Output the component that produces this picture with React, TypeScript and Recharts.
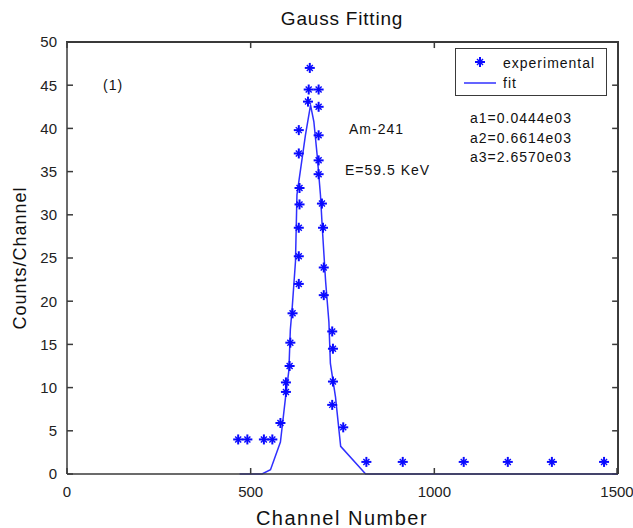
import React from 'react';
import { ComposedChart, Line, Scatter, XAxis, YAxis, ReferenceLine, CartesianGrid } from 'recharts';

// experimental counts (channel, counts)
const expChannels = [
  466, 491, 536, 559, 581, 596, 596, 606, 608, 614, 631, 631, 631, 633, 633, 631, 631,
  656, 658, 661, 685, 685, 685, 685, 685, 694, 697, 699, 699, 722, 724, 724, 722, 752,
  815, 914, 1080, 1200, 1320, 1462,
];
const expCounts = [
  4, 4, 4, 4, 5.9, 9.5, 10.6, 12.5, 15.2, 18.6, 22.0, 25.2, 28.5, 31.2, 33.1, 37.1, 39.8,
  43.1, 44.5, 47.0, 44.5, 42.5, 39.2, 36.3, 34.7, 31.3, 28.5, 23.9, 20.7, 16.5, 14.5, 10.7, 8.0, 5.4,
  1.4, 1.4, 1.4, 1.4, 1.4, 1.4,
];

// fitted curve
const fitChannels = [
  470, 531, 554, 581, 595, 604, 608, 613, 622, 626, 649, 663, 672, 681, 690, 695, 704, 713,
  717, 731, 745, 813, 1000, 1500,
];
const fitCounts = [
  0, 0, 0.5, 3.7, 8.9, 12, 16.7, 19.2, 24.6, 32.3, 39.2, 42.7, 40.8, 36.9, 32.3, 28.5, 22.3, 17.6,
  12.8, 8.9, 3.2, 0, 0, 0,
];

const xTicks = [0, 500, 1000, 1500];
const yTicks = [0, 5, 10, 15, 20, 25, 30, 35, 40, 45, 50];
const X_MAX = 1500;
const Y_MAX = 50;

const fitParams = ['a1=0.0444e03', 'a2=0.6614e03', 'a3=2.6570e03'];

const expData = expChannels.map((x, i) => ({ x, y: expCounts[i] }));
const fitData = fitChannels.map((x, i) => ({ x, y: fitCounts[i] }));

const BLUE = '#0a0aff';
const AXIS = '#3a3a3a';
const FONT = '"Liberation Sans", Arial, Helvetica, sans-serif';
const TICK_LEN = 6;
// same tick length for the top/right ticks, in data units
const TICK_DX = 16;
const TICK_DY = 0.7;

const Star = (props: any) => {
  const { cx, cy } = props;
  if (cx == null || cy == null) return null;
  return (
    <g>
      <line x1={cx - 5} y1={cy} x2={cx + 5} y2={cy} stroke={BLUE} strokeWidth={2} />
      <line x1={cx} y1={cy - 5} x2={cx} y2={cy + 5} stroke={BLUE} strokeWidth={2} />
      <line x1={cx - 3} y1={cy - 3} x2={cx + 3} y2={cy + 3} stroke={BLUE} strokeWidth={1.4} />
      <line x1={cx - 3} y1={cy + 3} x2={cx + 3} y2={cy - 3} stroke={BLUE} strokeWidth={1.4} />
    </g>
  );
};

// ticks point into the plot, like the matlab box
const LeftTick = (props: any) => {
  const { x, y, payload } = props;
  return (
    <g>
      <line x1={x + 10} y1={y} x2={x + 10 + TICK_LEN} y2={y} stroke={AXIS} strokeWidth={1.5} />
      <text x={x} y={y} dy="0.36em" textAnchor="end" fill="#222" fontSize={15} fontFamily={FONT}>
        {payload.value}
      </text>
    </g>
  );
};

const BottomTick = (props: any) => {
  const { x, y, payload } = props;
  return (
    <g>
      <line x1={x} y1={y - 12} x2={x} y2={y - 12 - TICK_LEN} stroke={AXIS} strokeWidth={1.5} />
      <text x={x} y={y} dy="0.75em" textAnchor="middle" fill="#222" fontSize={15} fontFamily={FONT}>
        {payload.value}
      </text>
    </g>
  );
};

const txt: React.CSSProperties = {
  position: 'absolute',
  fontFamily: FONT,
  fontSize: 14,
  letterSpacing: 1,
  color: '#111',
  whiteSpace: 'nowrap',
  lineHeight: 1,
};

const tickStroke = { stroke: AXIS, strokeWidth: 1.5 };

export default function App() {
  return (
    <div
      style={{
        position: 'absolute',
        left: 0,
        top: 0,
        width: 633,
        height: 528,
        background: '#fff',
        fontFamily: FONT,
      }}
    >
      <ComposedChart width={633} height={528} margin={{ top: 41, right: 14, bottom: 24, left: 17 }}>
        <CartesianGrid
          stroke={AXIS}
          strokeWidth={1.5}
          horizontalCoordinatesGenerator={(p: any) => [p.offset.top + 0.2]}
          verticalCoordinatesGenerator={(p: any) => [p.offset.left + p.offset.width - 0.2]}
        />
        <XAxis
          xAxisId="b"
          dataKey="x"
          type="number"
          domain={[0, X_MAX]}
          ticks={xTicks}
          height={30}
          tickLine={false}
          tickSize={0}
          tickMargin={12}
          axisLine={{ stroke: AXIS, strokeWidth: 1.5 }}
          tick={<BottomTick />}
        />
        <XAxis
          xAxisId="t"
          orientation="top"
          type="number"
          domain={[0, X_MAX]}
          ticks={xTicks}
          height={1}
          axisLine={{ stroke: AXIS, strokeWidth: 1.5 }}
          tick={false}
        />
        <YAxis
          yAxisId="l"
          type="number"
          domain={[0, Y_MAX]}
          ticks={yTicks}
          width={50}
          tickLine={false}
          tickSize={0}
          tickMargin={10}
          axisLine={{ stroke: AXIS, strokeWidth: 1.5 }}
          tick={<LeftTick />}
        />
        <YAxis
          yAxisId="r"
          orientation="right"
          type="number"
          domain={[0, Y_MAX]}
          ticks={yTicks}
          width={1}
          axisLine={{ stroke: AXIS, strokeWidth: 1.5 }}
          tick={false}
        />

        {yTicks.map((v) => (
          <ReferenceLine
            key={`yr${v}`}
            xAxisId="b"
            yAxisId="l"
            ifOverflow="visible"
            segment={[{ x: X_MAX - TICK_DX, y: v }, { x: X_MAX, y: v }]}
            {...tickStroke}
          />
        ))}
        {xTicks.map((v) => (
          <ReferenceLine
            key={`xt${v}`}
            xAxisId="b"
            yAxisId="l"
            ifOverflow="visible"
            segment={[{ x: v, y: Y_MAX - TICK_DY }, { x: v, y: Y_MAX }]}
            {...tickStroke}
          />
        ))}

        <Line
          xAxisId="b"
          yAxisId="l"
          data={fitData}
          dataKey="y"
          stroke="#3030ff"
          strokeWidth={1.5}
          dot={false}
          isAnimationActive={false}
        />
        <Scatter
          xAxisId="b"
          yAxisId="l"
          data={expData}
          dataKey="y"
          shape={<Star />}
          isAnimationActive={false}
        />
      </ComposedChart>

      {/* plot frame: top and right edges of the matlab box */}
      <div
        style={{
          position: 'absolute',
          left: 66,
          top: 41.25,
          width: 552.75,
          height: 432.75,
          borderTop: `1.5px solid ${AXIS}`,
          borderRight: `1.5px solid ${AXIS}`,
          boxSizing: 'border-box',
          pointerEvents: 'none',
        }}
      />

      <div style={{ ...txt, fontSize: 19, letterSpacing: 0.8, left: 0, width: 684, top: 9, textAlign: 'center' }}>
        Gauss Fitting
      </div>
      <div style={{ ...txt, fontSize: 20, letterSpacing: 1.5, left: 0, width: 684, top: 508, textAlign: 'center' }}>
        Channel Number
      </div>
      <div
        style={{
          ...txt,
          fontSize: 18,
          letterSpacing: 1,
          left: 20,
          top: 258,
          transform: 'translate(-50%, -50%) rotate(-90deg)',
        }}
      >
        Counts/Channel
      </div>

      <div style={{ ...txt, left: 103, top: 78 }}>(1)</div>
      <div style={{ ...txt, left: 349, top: 122 }}>Am-241</div>
      <div style={{ ...txt, left: 345, top: 163 }}>E=59.5 KeV</div>
      {fitParams.map((p, i) => (
        <div key={p} style={{ ...txt, left: 470, top: 111 + i * 19.5 }}>
          {p}
        </div>
      ))}

      <div
        style={{
          position: 'absolute',
          left: 455,
          top: 48,
          width: 152,
          height: 48,
          border: `1.5px solid ${AXIS}`,
          background: '#fff',
          boxSizing: 'border-box',
        }}
      >
        <svg width={40} height={46} style={{ position: 'absolute', left: 4, top: 0 }}>
          <Star cx={20} cy={13} />
          <line x1={4} y1={34} x2={36} y2={34} stroke="#3030ff" strokeWidth={1.5} />
        </svg>
        <div style={{ ...txt, left: 47, top: 7 }}>experimental</div>
        <div style={{ ...txt, left: 47, top: 27 }}>fit</div>
      </div>
    </div>
  );
}
